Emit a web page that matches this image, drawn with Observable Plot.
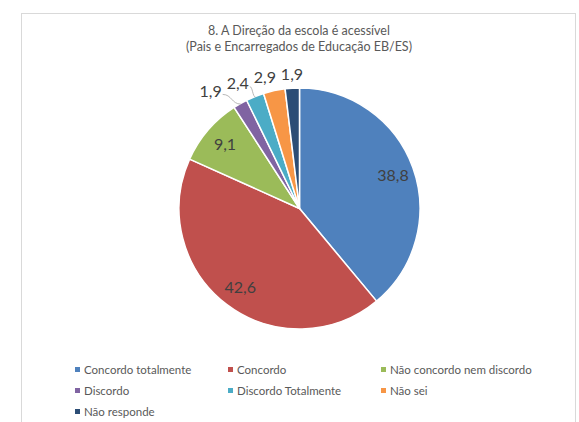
<!DOCTYPE html>
<html><head><meta charset="utf-8">
<script src="https://cdn.jsdelivr.net/npm/d3@7"></script>
<script src="https://cdn.jsdelivr.net/npm/@observablehq/plot@0.6"></script>
<style>
body{margin:0;background:#fff;width:579px;height:422px;overflow:hidden;position:relative;font-family:Lato,"Open Sans",sans-serif;}
#frame{position:absolute;left:21px;top:13px;width:555px;height:440px;border:1px solid #d9d9d9;box-sizing:border-box;}
#chart{position:absolute;left:0;top:0;}
#title{position:absolute;left:21px;top:23px;width:556px;text-align:center;font-size:12.5px;line-height:16px;color:#595959;}
#legend{position:absolute;left:75px;top:359px;display:grid;grid-template-columns:153px 153px 153px;grid-auto-rows:21px;font-size:11.5px;color:#595959;}
#legend .item{display:flex;align-items:center;white-space:nowrap;}
#legend .sw{width:5px;height:5px;margin-right:4px;flex:none;}
</style></head><body>
<div id="frame"></div>
<div id="chart"></div>
<div id="title">8. A Direção da escola é acessível<br>(Pais e Encarregados de Educação EB/ES)</div>
<div id="legend"></div>
<script>
const categories = ["Concordo totalmente","Concordo","Não concordo nem discordo","Discordo","Discordo Totalmente","Não sei","Não responde"];
const values = [38.8, 42.6, 9.1, 1.9, 2.4, 2.9, 1.9];
const colors = ["#4f81bd","#c0504d","#9bbb59","#8064a2","#4bacc6","#f79646","#2c4d75"];

const color = Plot.scale({color: {type: "ordinal", domain: categories, range: colors}});
const data = categories.map((c, i) => ({category: c, value: values[i], label: values[i].toFixed(1).replace(".", ",")}));
const arcs = d3.pie().sort(null).value(d => d.value)(data);

// label positions in data units (radius = 1)
const labelData = arcs.map(a => {
  const mid = (a.startAngle + a.endAngle) / 2;
  const inside = a.data.value >= 5;
  const k = inside ? 0.82 : 1.115;
  return {label: a.data.label, inside, mid, lx: k * Math.sin(mid), ly: k * Math.cos(mid), ex: Math.sin(mid), ey: Math.cos(mid), rx: k * Math.sin(mid)};
});
// avoid overlap of outside labels (going counter-clockwise from the last one)
const gap = 0.225;
let prev = null;
for (let i = labelData.length - 1; i >= 0; i--) {
  const d = labelData[i];
  if (d.inside) continue;
  if (prev && d.lx > prev.lx - gap) d.lx = prev.lx - gap;
  prev = d;
}
const leaders = labelData.filter(d => !d.inside && d.rx - d.lx > 0.08)
  .map(d => ({x1: d.lx + 0.1, y1: d.ly - 0.02, x2: d.ex, y2: d.ey}));

function pieMark(index, scales) {
  const cx = scales.x(0), cy = scales.y(0), r = scales.x(1) - scales.x(0);
  const arc = d3.arc().innerRadius(0).outerRadius(r);
  const g = d3.create("svg:g").attr("transform", `translate(${cx},${cy})`);
  g.selectAll("path").data(arcs).join("path")
    .attr("d", arc)
    .attr("fill", d => color.apply(d.data.category))
    .attr("stroke", "white")
    .attr("stroke-width", 1.5)
    .attr("stroke-linejoin", "round");
  return g.node();
}

const chart = Plot.plot({
  width: 579, height: 422,
  marginLeft: 179, marginRight: 159, marginTop: 88, marginBottom: 93,
  x: {domain: [-1, 1], axis: null},
  y: {domain: [-1, 1], axis: null},
  style: {background: "transparent", overflow: "visible"},
  marks: [
    pieMark,
    Plot.link(leaders, {x1: "x1", y1: "y1", x2: "x2", y2: "y2", stroke: "#a6a6a6", strokeWidth: 0.8, curve: "bump-x"}),
    Plot.text(labelData, {x: "lx", y: "ly", text: "label", fill: "#404040", fontSize: 16, fontFamily: "Lato, 'Open Sans', sans-serif"})
  ]
});
document.getElementById("chart").appendChild(chart);

const legend = d3.select("#legend");
const items = legend.selectAll(".item").data(categories).join("div").attr("class", "item");
items.append("span").attr("class", "sw").style("background", c => color.apply(c));
items.append("span").text(c => c);
</script>
</body></html>
